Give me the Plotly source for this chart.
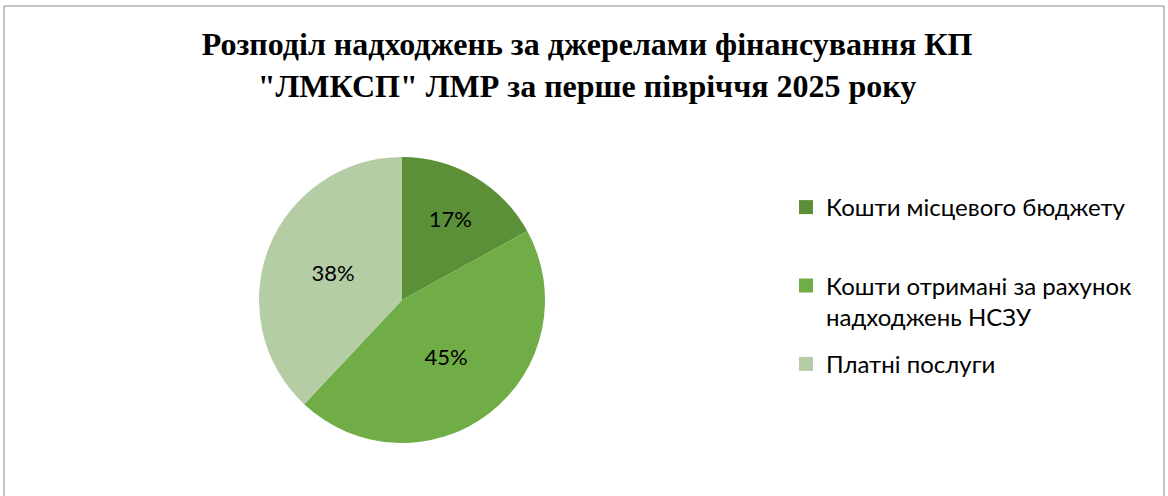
import plotly.graph_objects as go

# data
labels = [
    "Кошти місцевого бюджету",
    "Кошти отримані за рахунок<br>надходжень НСЗУ",
    "Платні послуги",
]
shares = [17, 45, 38]
colors = ["#5B9039", "#70AD47", "#B4CDA5"]

W, H = 1168, 496

fig = go.Figure()
fig.add_trace(go.Pie(
    labels=labels,
    values=shares,
    sort=False,
    direction="clockwise",
    rotation=0,
    marker=dict(colors=colors, line=dict(color="white", width=0)),
    texttemplate="%{percent:.0%}",
    textposition="inside",
    insidetextorientation="horizontal",
    textfont=dict(family="Lato, Open Sans, sans-serif", size=22, color="black"),
    domain=dict(x=[259 / W, 545 / W], y=[(H - 443) / H, (H - 157) / H]),
    hoverinfo="label+percent",
    showlegend=False,
))

# legend entries (Excel spaces them wider than a single pie legend allows)
for lab, col in zip(labels, colors):
    if "<br>" not in lab:
        lab = lab + "<br> "  # keep every entry two lines tall
    fig.add_trace(go.Scatter(
        x=[None], y=[None], mode="markers",
        marker=dict(symbol="square", size=14, color=col),
        name=lab, legendgroup=lab, hoverinfo="skip",
    ))

fig.update_layout(
    width=W,
    height=H,
    margin=dict(l=0, r=0, t=0, b=0),
    paper_bgcolor="white",
    plot_bgcolor="white",
    xaxis=dict(visible=False),
    yaxis=dict(visible=False),
    title=dict(
        text="Розподіл надходжень за джерелами фінансування КП<br>\"ЛМКСП\" ЛМР за перше півріччя 2025 року",
        x=587 / W,
        xanchor="center",
        y=1 - 55 / H,
        yanchor="top",
        font=dict(family="Liberation Serif, Times New Roman, serif", size=32, color="black", weight="bold"),
    ),
    legend=dict(
        x=786 / W,
        y=1 - 185 / H,
        xanchor="left",
        yanchor="top",
        valign="top",
        font=dict(family="Lato, Open Sans, sans-serif", size=24, color="black"),
        itemwidth=30,
        tracegroupgap=13,
        bgcolor="rgba(0,0,0,0)",
    ),
    shapes=[dict(
        type="rect", xref="paper", yref="paper",
        x0=4 / W, x1=1164 / W, y0=-0.05, y1=1 - 6 / H,
        line=dict(color="#8C8C8C", width=1), fillcolor="rgba(0,0,0,0)",
    )],
)

# drop the browser's default body margin so the figure sits at (0, 0)
fig.write_html("out.html", config={"displayModeBar": False},
               post_script="document.body.style.margin='0';")
